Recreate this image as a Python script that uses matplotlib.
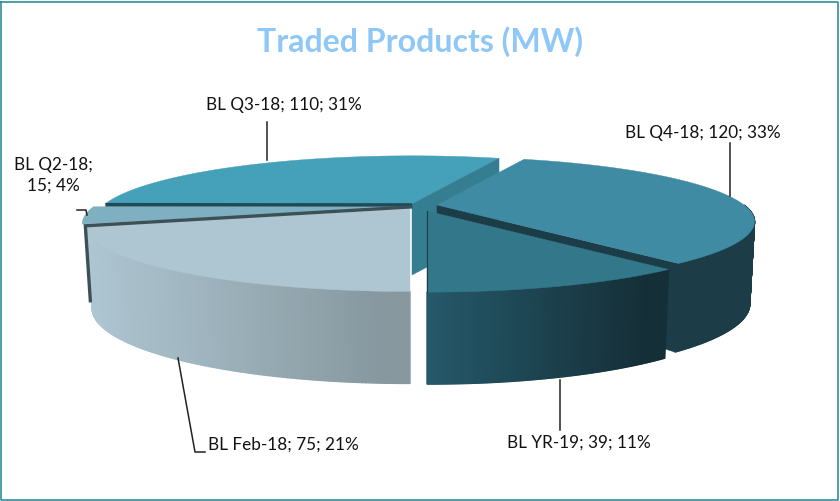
import numpy as np
import matplotlib
matplotlib.use('Agg')
import matplotlib.pyplot as plt
from matplotlib.colors import to_rgb

categories = ['BL Feb-18', 'BL Q2-18', 'BL Q3-18', 'BL Q4-18', 'BL YR-19']
values = [75, 15, 110, 120, 39]
percents = [21, 4, 31, 33, 11]

# exploded slice centres and radius
centre_x = [410, 411, 412, 437, 427]
centre_y = [209, 207, 204, 205, 211]
radius = [312, 318, 307, 307, 307]
top_colors = ['#aec6d2', '#7fb0c2', '#45a0b9', '#3f8ba3', '#33788a']
rim_left = ['#aec6d2', '#3d5058', '#357d90', '#1c3c48', '#25596a']
rim_right = ['#87989f', '#3d5058', '#357d90', '#1c3c48', '#152f38']

plt.rcParams['font.family'] = ['Lato', 'DejaVu Sans']

P = 0.255
K = 64 / 325


def scale(theta):
    return 1 / (1 + P * np.sin(theta))


def top_pts(theta, i):
    s = scale(theta)
    x = centre_x[i] + radius[i] * np.cos(theta) * s
    y = centre_y[i] - radius[i] * K * np.sin(theta) * s
    return x, y


def bottom_pts(theta, i):
    x, y = top_pts(theta, i)
    x = centre_x[i] + (x - centre_x[i]) * 0.985
    return x, y + 45 + 35 * scale(theta)


def draw_rim(ax, i, a, b):
    thetas = np.linspace(a, b, 160)
    xt, yt = top_pts(thetas, i)
    xb, yb = bottom_pts(thetas, i)
    c1 = np.array(to_rgb(rim_left[i]))
    c2 = np.array(to_rgb(rim_right[i]))
    lo, hi = xt.min(), xt.max()
    for j in range(len(thetas) - 1):
        f = min(1, ((xt[j] + xt[j + 1]) / 2 - lo) / (hi - lo) * 1.1)
        col = c1 + (c2 - c1) * f
        ax.fill([xt[j], xt[j + 1], xb[j + 1], xb[j]], [yt[j], yt[j + 1], yb[j + 1], yb[j]],
                color=col, lw=1.0)


def draw_top(ax, i, a, b):
    thetas = np.linspace(a, b, 160)
    x, y = top_pts(thetas, i)
    ax.fill(np.r_[centre_x[i], x], np.r_[centre_y[i], y], color=top_colors[i], lw=0.3)


def draw_wall(ax, i, theta, color):
    x, y = top_pts(theta, i)
    d = 71
    ax.fill([centre_x[i], x, x, centre_x[i]],
            [centre_y[i], y, y + d, centre_y[i] + d], color=color, lw=0.3)


# slice angles from the values, clockwise from straight down
total = sum(values)
edges = -np.pi / 2 - np.cumsum([0] + values) / total * 2 * np.pi

fig = plt.figure(figsize=(8.4, 5.01), dpi=100)
ax = fig.add_axes([0, 0, 1, 1])
ax.set_xlim(0, 840)
ax.set_ylim(501, 0)
ax.axis('off')

# outer frame
ax.plot([1, 838, 838, 1, 1], [2, 2, 500, 500, 2], color='#2f8f9d', lw=1.2)

# back slice
draw_top(ax, 2, edges[2], edges[3])
draw_wall(ax, 2, edges[3], rim_left[2])

# small slice, the dark wall of the back slice above it, and its dark edge
draw_top(ax, 1, edges[1], edges[2])
x2, y2 = top_pts(edges[2], 2)
ax.plot([x2, centre_x[2]], [y2 + 1, centre_y[2] + 1], color='#1f4b59', lw=2.6, solid_capstyle='butt')
x1, y1 = top_pts(edges[1], 0)
ax.plot([centre_x[1], x1 - 2, x1 + 3], [centre_y[1], y1, y1 + 75], color='#3d5058', lw=2.4,
        solid_joinstyle='miter')

# front left slice
draw_rim(ax, 0, edges[1], edges[0])
draw_top(ax, 0, edges[0], edges[1])

# right slices
draw_rim(ax, 3, edges[4] + 2 * np.pi, 0)
x4, y4 = top_pts(edges[4], 3)
xb4, yb4 = bottom_pts(edges[4], 3)
ax.fill([centre_x[3], x4, xb4, centre_x[3]], [centre_y[3], y4, yb4, centre_y[3] + 70],
        color=rim_left[3], lw=0.3)
draw_top(ax, 3, edges[3], edges[4])

draw_rim(ax, 4, edges[5], edges[4])
draw_top(ax, 4, edges[4], edges[5])
ax.plot([centre_x[4], centre_x[4]], [centre_y[4], top_pts(edges[5], 4)[1]], color='#1c3c48', lw=0.8)

# title
ax.text(420, 42, 'Traded Products (MW)', color='#8fc7f7', fontsize=23, fontweight='bold',
        ha='center', va='center')


def label(i):
    return f'{categories[i]}; {values[i]}; {percents[i]}%'


fs = 12.3
ax.text(284, 105, label(2), fontsize=fs, ha='center', va='center', color='#111111')
ax.text(703, 133, label(3), fontsize=fs, ha='center', va='center', color='#111111')
ax.text(579, 443, label(4), fontsize=fs, ha='center', va='center', color='#111111')
ax.text(283, 445, label(0), fontsize=fs, ha='center', va='center', color='#111111')
ax.text(14, 175, f'{categories[1]};\n{values[1]}; {percents[1]}%', fontsize=fs, ha='left', va='center',
        color='#111111', multialignment='center', linespacing=1.35)

# leader lines
ax.plot([267, 267], [122, 160], color='#222222', lw=1.1)
ax.plot([730, 730], [143, 196], color='#222222', lw=1.1)
ax.plot([560, 560], [380, 430], color='#222222', lw=1.1)
ax.plot([178, 195, 205], [358, 452, 452], color='#222222', lw=1.1)
ax.plot([77, 86, 87], [210, 210, 215], color='#222222', lw=1.1)

fig.savefig('out.png', dpi=100)
